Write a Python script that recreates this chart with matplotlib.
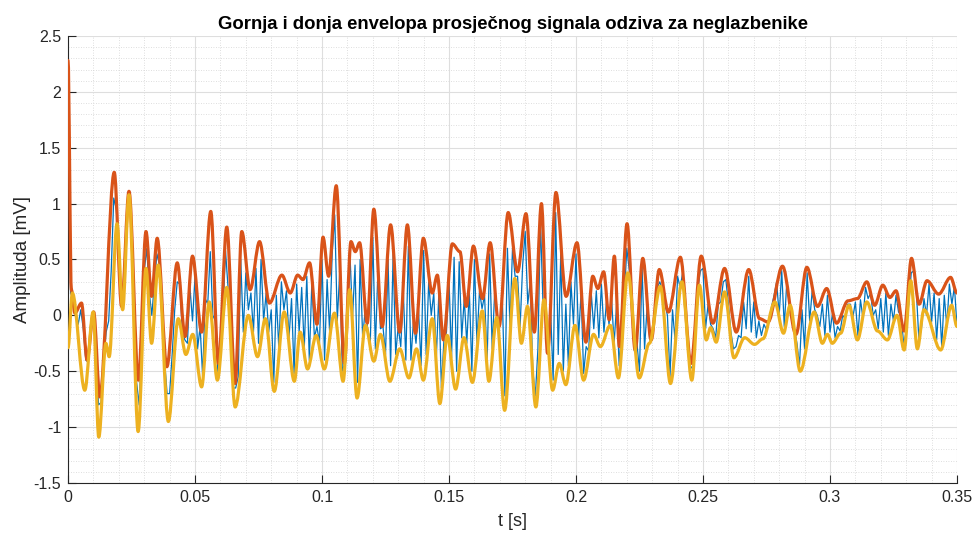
import numpy as np
import matplotlib
matplotlib.use("Agg")
import matplotlib.pyplot as plt
from matplotlib.path import Path
from matplotlib.patches import PathPatch
from matplotlib.ticker import MultipleLocator

plt.rcParams['font.family'] = ['Liberation Sans', 'DejaVu Sans']
plt.rcParams['axes.unicode_minus'] = False

# ---------------- data ----------------
title = "Gornja i donja envelopa prosječnog signala odziva za neglazbenike"
xlabel = "t [s]"
ylabel = "Amplituda [mV]"
xtick_labels = ["0", "0.05", "0.1", "0.15", "0.2", "0.25", "0.3", "0.35"]
ytick_labels = ["-1.5", "-1", "-0.5", "0", "0.5", "1", "1.5", "2", "2.5"]

# averaged response signal, sampled every 1 ms (mV)
signal_dt = 0.001
signal = [
    1.30, 0.20, 0.15, 0.04, -0.08, 0.05, -0.12, -0.40, -0.42, -0.05,
    0.02, -0.35, -0.80, -0.78, -0.44, -0.15, -0.05, 0.40, 1.05, 0.95,
    0.60, 0.10, 0.22, 0.78, 1.05, 0.75, 0.00, -0.60, -0.80, -0.25,
    0.40, 0.60, 0.20, 0.00, 0.30, 0.55, 0.45, 0.05, -0.40, -0.70,
    -0.70, -0.35, 0.05, 0.30, 0.28, -0.15, -0.22, -0.25, 0.25, -0.05,
    0.35, -0.30, -0.10, -0.55, 0.15, 0.10, 0.57, 0.00, -0.05, -0.52,
    -0.29, 0.02, 0.58, 0.25, 0.12, -0.65, -0.65, -0.55, 0.50, -0.15,
    0.38, 0.05, 0.20, -0.15, 0.42, -0.25, 0.50, -0.05, 0.20, -0.15,
    0.05, -0.60, 0.18, -0.30, 0.30, 0.05, 0.22, -0.20, 0.15, -0.52,
    0.28, -0.15, 0.25, -0.30, 0.35, -0.40, 0.30, -0.20, -0.10, -0.25,
    0.50, -0.40, 0.32, -0.15, 0.55, 0.90, -0.05, 0.40, -0.50, -0.42,
    0.02, 0.55, -0.02, 0.45, -0.60, 0.50, -0.20, 0.05, -0.12, -0.25,
    0.70, -0.30, 0.40, -0.12, -0.10, -0.35, 0.50, -0.45, 0.55, -0.35,
    -0.10, -0.28, 0.22, -0.40, 0.62, -0.40, -0.05, -0.25, 0.05, -0.45,
    0.58, -0.35, 0.30, 0.00, 0.20, -0.38, 0.20, -0.65, -0.22, -0.15,
    0.32, -0.38, 0.52, -0.50, 0.48, -0.20, 0.15, -0.25, 0.22, -0.50,
    0.50, -0.25, 0.22, 0.06, 0.18, -0.42, 0.55, -0.30, 0.22, -0.02,
    -0.08, 0.15, -0.72, 0.60, -0.10, 0.60, 0.35, 0.35, -0.10, 0.45,
    0.75, 0.10, 0.30, -0.50, -0.72, -0.30, 0.85, 0.10, 0.05, -0.30,
    0.05, -0.58, 0.92, -0.35, 0.55, -0.50, 0.10, -0.45, 0.30, -0.08,
    0.55, -0.20, 0.20, -0.52, -0.28, -0.32, 0.20, -0.12, 0.22, -0.20,
    0.28, -0.15, 0.12, -0.08, 0.15, -0.25, 0.10, -0.45, -0.10, 0.15,
    0.60, 0.40, 0.05, -0.32, -0.25, -0.50, 0.45, -0.30, 0.08, -0.22,
    -0.18, 0.05, 0.25, 0.30, 0.22, 0.10, 0.00, -0.55, 0.05, -0.22,
    0.35, 0.25, 0.38, 0.10, -0.25, -0.48, -0.45, -0.12, 0.25, 0.40,
    0.42, -0.12, 0.10, -0.08, -0.12, -0.20, 0.10, 0.12, 0.30, 0.32,
    0.10, -0.15, -0.30, -0.28, -0.18, -0.20, 0.12, -0.12, 0.35, -0.15,
    0.12, -0.20, -0.05, -0.18, -0.08, -0.13, -0.05, 0.08, 0.18, 0.30,
    0.00, 0.40, -0.10, 0.30, 0.10, 0.03, -0.12, -0.25, -0.45, 0.05,
    -0.30, 0.38, -0.05, 0.22, 0.05, 0.00, -0.10, 0.10, -0.18, 0.18,
    -0.15, 0.02, -0.20, -0.10, -0.14, 0.00, -0.03, 0.10, 0.10, -0.02,
    0.12, -0.18, 0.14, -0.03, 0.25, 0.15, 0.20, 0.00, 0.05, -0.12,
    0.15, -0.15, 0.20, -0.18, 0.10, -0.05, 0.18, 0.03, 0.00, -0.25,
    -0.15, 0.10, 0.38, 0.40, 0.22, -0.22, -0.12, 0.15, 0.00, 0.28,
    -0.06, 0.20, -0.22, 0.15, -0.28, 0.18, -0.10, 0.28, 0.10, 0.26,
    -0.10,
]

# upper envelope: turning points (time in s, amplitude in mV)
upper_t = [
    0.0000, 0.0013, 0.0027, 0.0053, 0.0075, 0.0101, 0.0125, 0.0182, 0.0211, 0.0240,
    0.0277, 0.0307, 0.0329, 0.0351, 0.0389, 0.0430, 0.0461, 0.0490, 0.0526, 0.0562,
    0.0592, 0.0625, 0.0658, 0.0684, 0.0717, 0.0754, 0.0793, 0.0842, 0.0875, 0.0904,
    0.0925, 0.0951, 0.0980, 0.1004, 0.1026, 0.1056, 0.1088, 0.1114, 0.1131, 0.1148,
    0.1178, 0.1204, 0.1237, 0.1270, 0.1306, 0.1336, 0.1368, 0.1399, 0.1434, 0.1454,
    0.1478, 0.1513, 0.1543, 0.1568, 0.1596, 0.1632, 0.1662, 0.1697, 0.1733, 0.1770,
    0.1803, 0.1836, 0.1864, 0.1888, 0.1921, 0.1961, 0.2004, 0.2039, 0.2066, 0.2086,
    0.2109, 0.2131, 0.2151, 0.2171, 0.2201, 0.2233, 0.2263, 0.2296, 0.2328, 0.2364,
    0.2411, 0.2453, 0.2493, 0.2539, 0.2585, 0.2631, 0.2680, 0.2723, 0.2756, 0.2813,
    0.2866, 0.2909, 0.2951, 0.2987, 0.3026, 0.3071, 0.3108, 0.3145, 0.3176, 0.3208,
    0.3236, 0.3260, 0.3292, 0.3321, 0.3351, 0.3382, 0.3428, 0.3475, 0.3500,
]
upper_v = [
    2.28, 0.23, 0.02, 0.11, -0.40, 0.03, -0.73, 1.28, 0.08, 1.11,
    -0.58, 0.75, 0.17, 0.69, -0.46, 0.47, -0.19, 0.53, -0.15, 0.93,
    -0.43, 0.79, -0.61, 0.75, 0.23, 0.66, 0.11, 0.36, 0.20, 0.36,
    0.32, 0.47, -0.08, 0.70, 0.35, 1.16, -0.43, 0.66, 0.57, 0.65,
    -0.07, 0.95, -0.10, 0.81, -0.15, 0.81, -0.16, 0.69, 0.20, 0.36,
    -0.22, 0.64, 0.57, 0.08, 0.62, 0.15, 0.65, -0.10, 0.92, 0.39,
    0.91, -0.15, 1.00, -0.34, 1.10, 0.17, 0.65, -0.24, 0.35, 0.24,
    0.39, -0.04, 0.53, -0.28, 0.82, -0.31, 0.51, -0.22, 0.41, 0.03,
    0.52, -0.43, 0.53, -0.07, 0.42, -0.15, 0.41, -0.03, -0.06, 0.44,
    -0.17, 0.43, 0.08, 0.24, -0.07, 0.13, 0.15, 0.30, 0.09, 0.27,
    0.16, 0.22, -0.14, 0.51, 0.10, 0.31, 0.19, 0.34, 0.20,
]

# lower envelope: turning points (time in s, amplitude in mV)
lower_t = [
    0.0000, 0.0017, 0.0066, 0.0099, 0.0121, 0.0149, 0.0162, 0.0193, 0.0215, 0.0240,
    0.0276, 0.0307, 0.0329, 0.0355, 0.0395, 0.0434, 0.0464, 0.0491, 0.0526, 0.0556,
    0.0588, 0.0625, 0.0658, 0.0710, 0.0746, 0.0777, 0.0812, 0.0851, 0.0891, 0.0914,
    0.0943, 0.0977, 0.1009, 0.1049, 0.1083, 0.1109, 0.1138, 0.1171, 0.1204, 0.1230,
    0.1267, 0.1306, 0.1342, 0.1372, 0.1399, 0.1434, 0.1464, 0.1493, 0.1526, 0.1559,
    0.1592, 0.1631, 0.1657, 0.1688, 0.1719, 0.1759, 0.1785, 0.1809, 0.1842, 0.1874,
    0.1908, 0.1934, 0.1960, 0.1996, 0.2030, 0.2069, 0.2096, 0.2135, 0.2167, 0.2204,
    0.2249, 0.2289, 0.2332, 0.2372, 0.2417, 0.2456, 0.2486, 0.2513, 0.2530, 0.2552,
    0.2585, 0.2622, 0.2664, 0.2703, 0.2736, 0.2783, 0.2817, 0.2843, 0.2883, 0.2938,
    0.2970, 0.2990, 0.3009, 0.3042, 0.3075, 0.3108, 0.3145, 0.3187, 0.3226, 0.3264,
    0.3292, 0.3318, 0.3344, 0.3370, 0.3436, 0.3479, 0.3500,
]
lower_v = [
    -0.29, 0.20, -0.67, 0.03, -1.09, -0.25, -0.37, 0.82, 0.05, 1.08,
    -1.04, 0.42, -0.25, 0.45, -0.95, -0.03, -0.35, -0.17, -0.64, 0.12,
    -0.58, 0.25, -0.82, 0.00, -0.37, -0.03, -0.68, 0.03, -0.59, -0.15,
    -0.48, -0.18, -0.48, 0.02, -0.59, 0.23, -0.74, -0.09, -0.41, -0.17,
    -0.59, -0.30, -0.56, -0.30, -0.58, -0.03, -0.79, -0.18, -0.66, -0.20,
    -0.60, 0.04, -0.59, -0.02, -0.85, 0.33, -0.25, 0.08, -0.82, 0.14,
    -0.67, -0.43, -0.62, -0.09, -0.58, -0.17, -0.28, -0.09, -0.56, 0.38,
    -0.56, -0.25, 0.26, -0.61, 0.30, -0.58, 0.27, -0.22, -0.11, -0.24,
    0.21, -0.38, -0.20, -0.26, -0.21, 0.12, -0.16, 0.09, -0.50, 0.03,
    -0.25, -0.17, -0.25, -0.16, 0.09, -0.22, 0.12, -0.14, -0.22, 0.00,
    -0.31, 0.31, -0.30, 0.05, -0.31, 0.09, -0.10,
]

# ---------------- figure ----------------
BLUE = "#0072BD"
ORANGE = "#D95319"
YELLOW = "#EDB120"

fig = plt.figure(figsize=(9.79, 5.37), dpi=100, facecolor="white")
ax = fig.add_axes([0.0695, 0.1006, 0.908, 0.8324])
ax.set_facecolor("white")

t_sig = np.arange(len(signal)) * signal_dt
ax.plot(t_sig, signal, color=BLUE, lw=0.9, zorder=2)


def turning_path(ts, vs):
    verts = [(ts[0], vs[0])]
    codes = [Path.MOVETO]
    for i in range(1, len(ts)):
        d = ts[i] - ts[i - 1]
        verts += [(ts[i - 1] + d / 3.0, vs[i - 1]),
                  (ts[i] - d / 3.0, vs[i]),
                  (ts[i], vs[i])]
        codes += [Path.CURVE4] * 3
    return Path(verts, codes)


ax.add_patch(PathPatch(turning_path(upper_t, upper_v), fill=False,
                       edgecolor=ORANGE, lw=2.3, zorder=3,
                       capstyle="round", joinstyle="round"))
ax.add_patch(PathPatch(turning_path(lower_t, lower_v), fill=False,
                       edgecolor=YELLOW, lw=2.3, zorder=4,
                       capstyle="round", joinstyle="round"))

ax.set_xlim(0, 0.35)
ax.set_ylim(-1.5, 2.5)
ax.set_xticks(np.arange(len(xtick_labels)) * 0.05)
ax.set_xticklabels(xtick_labels)
ax.set_yticks(-1.5 + np.arange(len(ytick_labels)) * 0.5)
ax.set_yticklabels(ytick_labels)
ax.xaxis.set_minor_locator(MultipleLocator(0.01))
ax.yaxis.set_minor_locator(MultipleLocator(0.1))

ax.grid(True, which="major", color="#dedede", lw=0.8, linestyle="-")
ax.grid(True, which="minor", color="#d4d4d4", lw=0.6, linestyle=(0, (1, 2)))
ax.set_axisbelow(True)

for s in ["top", "right"]:
    ax.spines[s].set_visible(False)
for s in ["left", "bottom"]:
    ax.spines[s].set_color("#262626")
    ax.spines[s].set_linewidth(0.8)

ax.tick_params(which="major", direction="in", length=6, width=0.8,
               color="#262626", labelcolor="#262626", labelsize=11.5, pad=5)
ax.tick_params(which="minor", length=0)

ax.set_title(title, fontsize=13.3, fontweight="bold", color="black", pad=5)
ax.set_xlabel(xlabel, fontsize=13, color="#262626", labelpad=6)
ax.set_ylabel(ylabel, fontsize=13.5, color="#262626", labelpad=2)

fig.savefig("out.png", dpi=100, facecolor="white")
